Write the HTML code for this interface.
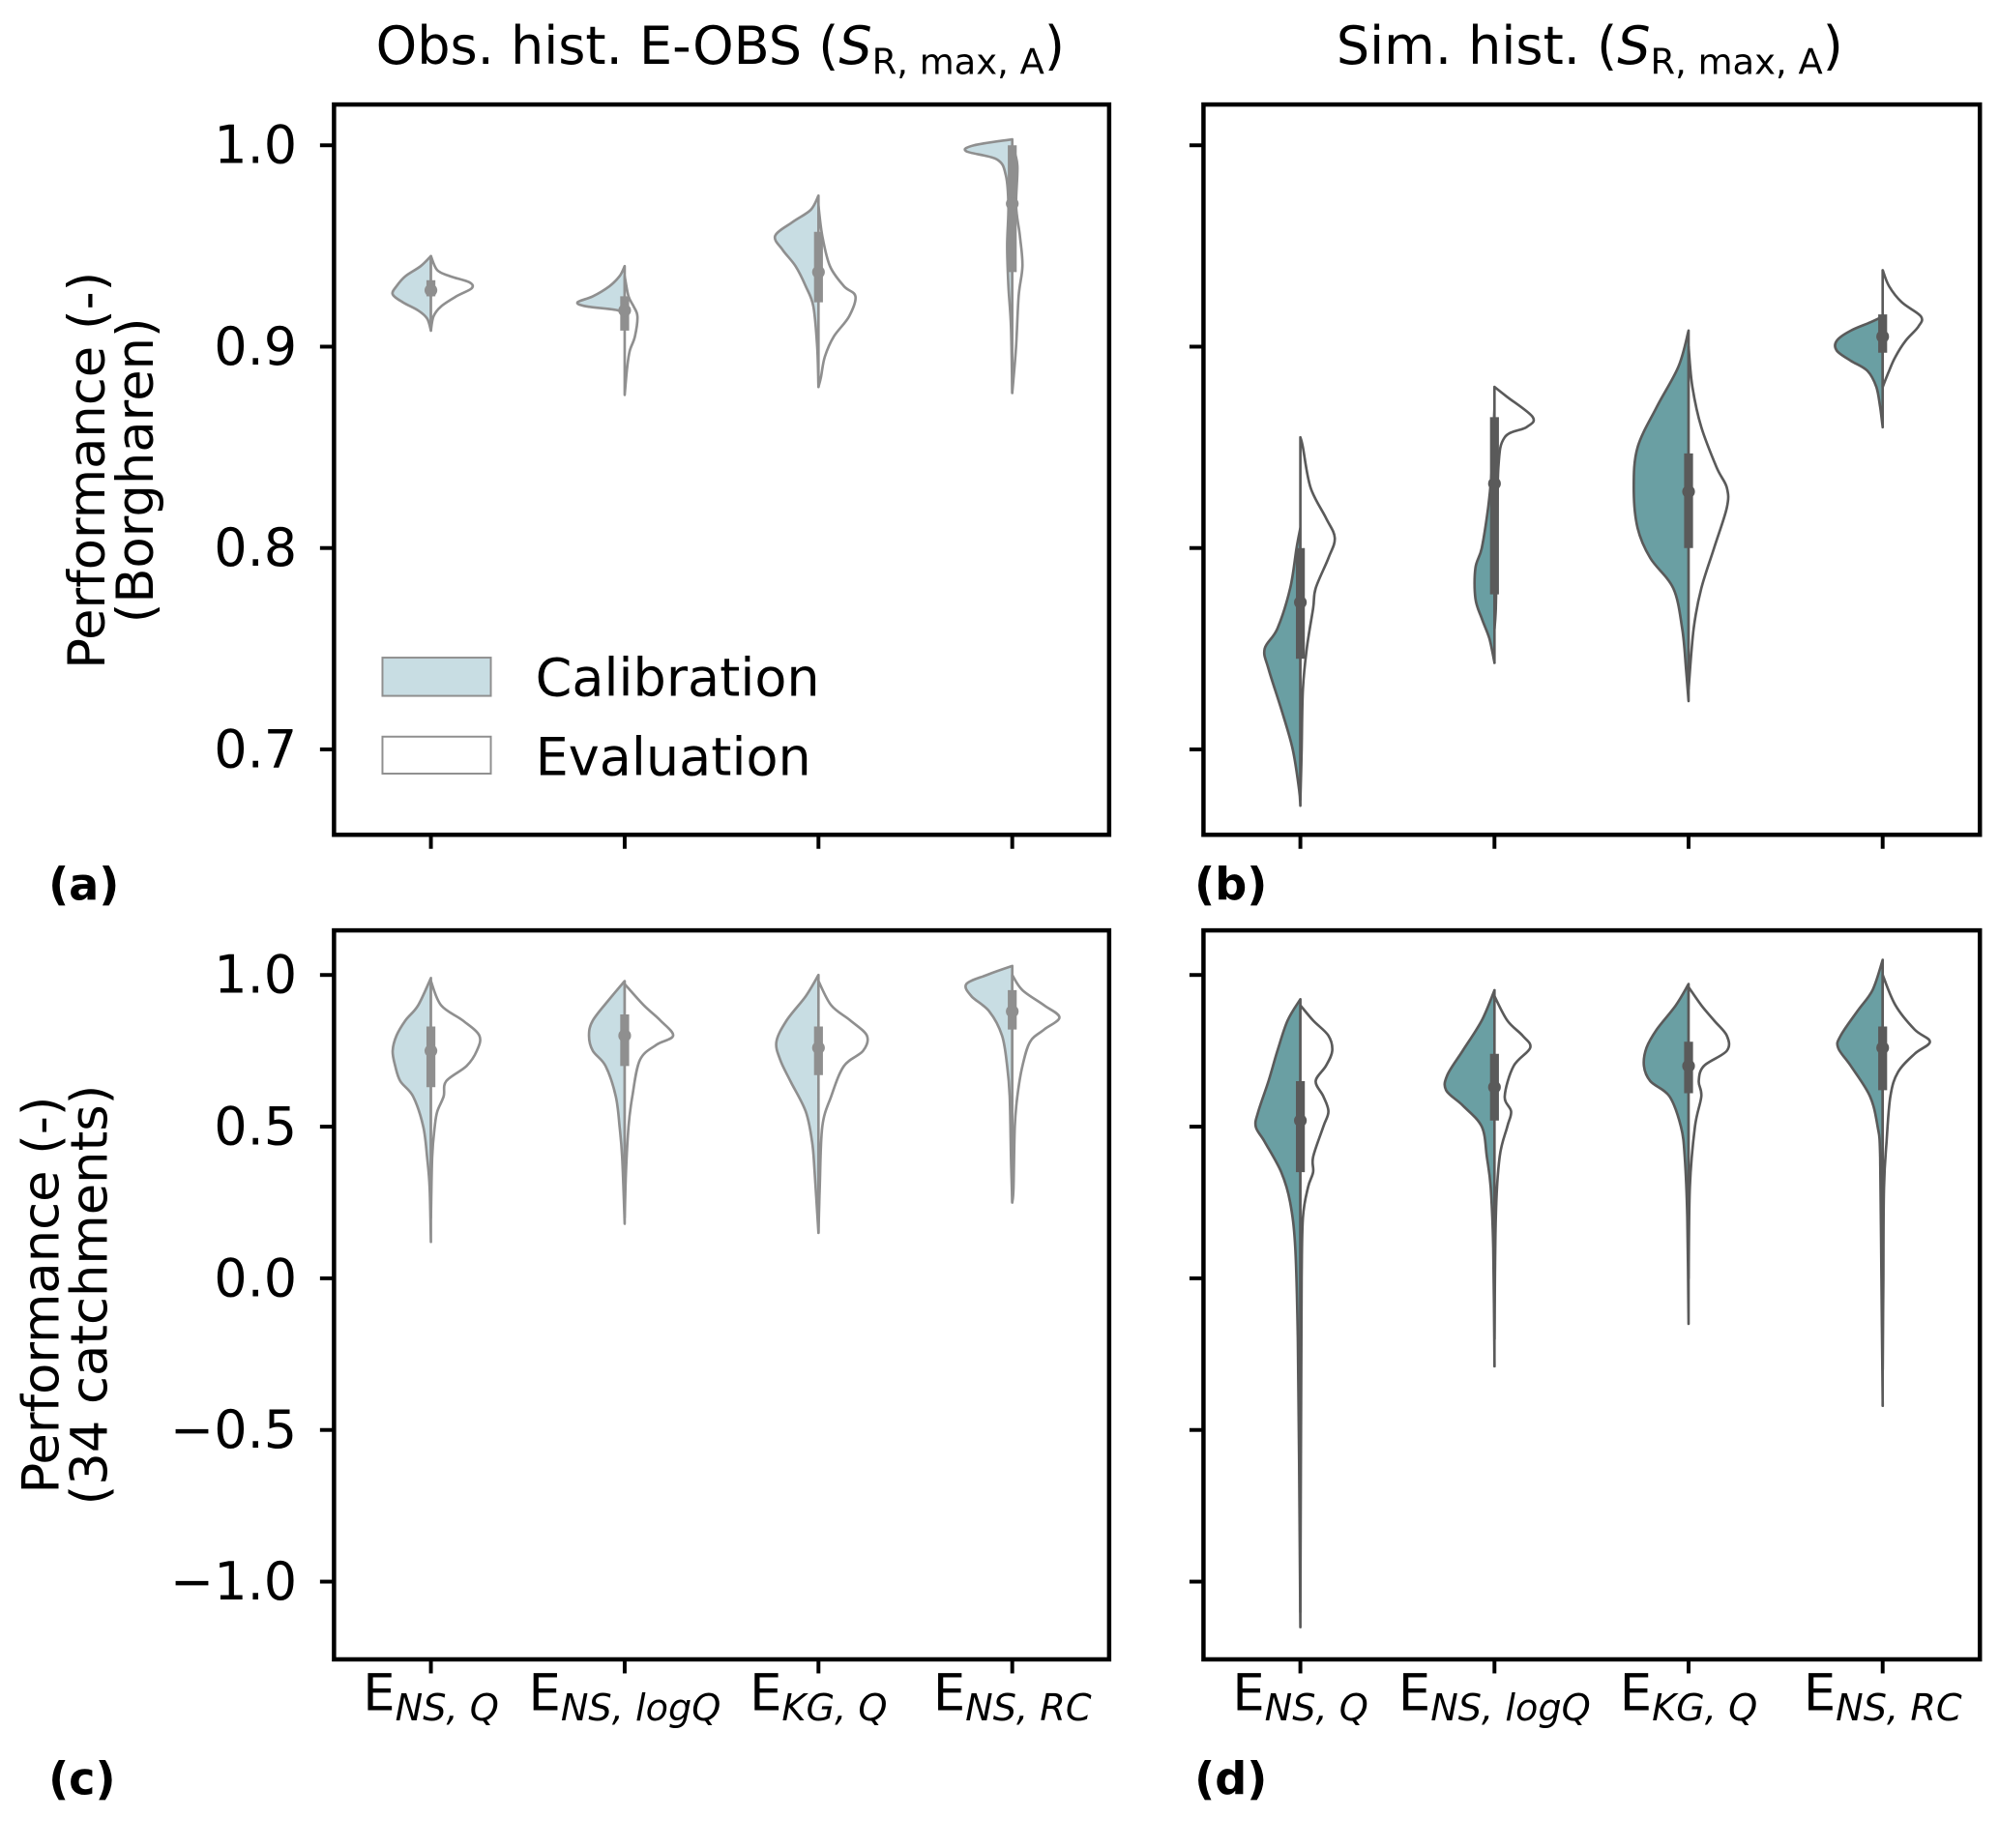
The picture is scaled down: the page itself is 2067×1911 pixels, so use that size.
<!DOCTYPE html>
<html><head><meta charset="utf-8"><style>
html,body{margin:0;padding:0;background:#fff}
svg{display:block}
text{font-family:"DejaVu Sans","Liberation Sans",sans-serif;fill:#000}
</style></head><body>
<svg id="fig" width="2067" height="1911" viewBox="0 0 1568 1450" preserveAspectRatio="none" xmlns="http://www.w3.org/2000/svg">
<text x="565" y="50" font-size="41" text-anchor="middle">Obs. hist. E-OBS (<tspan font-style="italic">S</tspan><tspan font-size="28" dy="8">R, max, A</tspan><tspan dy="-8">)</tspan></text>
<text x="1247" y="50" font-size="41" text-anchor="middle">Sim. hist. (<tspan font-style="italic">S</tspan><tspan font-size="28" dy="8">R, max, A</tspan><tspan dy="-8">)</tspan></text>
<text font-size="40" text-anchor="middle" transform="translate(0,369) rotate(-90)"><tspan x="0" y="82">Performance (-)</tspan><tspan x="0" y="120">(Borgharen)</tspan></text>
<text font-size="40" text-anchor="middle" transform="translate(0,1016) rotate(-90)"><tspan x="0" y="46">Performance (-)</tspan><tspan x="0" y="84">(34 catchments)</tspan></text>
<text x="38" y="706" font-size="35" font-weight="bold">(a)</text>
<text x="937" y="706" font-size="35" font-weight="bold">(b)</text>
<text x="38" y="1408" font-size="35" font-weight="bold">(c)</text>
<text x="937" y="1408" font-size="35" font-weight="bold">(d)</text>
<g id="plots"></g>
<g>
<rect x="300" y="516" width="85" height="30" fill="#c8dde3" stroke="#8f8f8f" stroke-width="1.5"/>
<text x="420" y="546" font-size="41">Calibration</text>
<rect x="300" y="578" width="85" height="29" fill="#fff" stroke="#8f8f8f" stroke-width="1.5"/>
<text x="420" y="608" font-size="41">Evaluation</text>
</g>
</svg>
<script>
const categories = ["NS, Q","NS, logQ","KG, Q","NS, RC"];
const ticksTop = [1.0,0.9,0.8,0.7];
const tickLabelsTop = ["1.0","0.9","0.8","0.7"];
const ticksBottom = [1.0,0.5,0.0,-0.5,-1.0];
const tickLabelsBottom = ["1.0","0.5","0.0","\u22120.5","\u22121.0"];
// profiles: [value, half-width density]
const calA = [
 [[0.945,0],[0.94,8],[0.935,20],[0.93,27],[0.926,30],[0.922,22],[0.918,10],[0.914,3],[0.908,0]],
 [[0.94,0],[0.935,4],[0.93,12],[0.925,25],[0.922,37],[0.92,30],[0.918,5],[0.915,0]],
 [[0.975,0],[0.968,6],[0.962,20],[0.955,34],[0.948,28],[0.94,18],[0.93,10],[0.92,4],[0.9,1],[0.88,0]],
 [[1.003,0],[1.0,30],[0.997,36],[0.993,12],[0.985,5],[0.97,3],[0.95,4],[0.93,3],[0.91,1],[0.877,0]]
];
const evalA = [
 [[0.945,0],[0.938,5],[0.935,15],[0.932,30],[0.929,32],[0.925,20],[0.92,8],[0.915,2],[0.908,0]],
 [[0.935,0],[0.925,3],[0.92,7],[0.915,10],[0.905,8],[0.898,4],[0.89,2],[0.876,0]],
 [[0.97,0],[0.955,3],[0.94,9],[0.93,20],[0.925,29],[0.915,24],[0.905,12],[0.895,5],[0.885,2],[0.88,0]],
 [[1.0,0],[0.99,4],[0.97,3],[0.955,6],[0.94,8],[0.925,5],[0.9,3],[0.877,0]]
];
const boxA = [[0.925,0.928,0.933],[0.908,0.918,0.925],[0.922,0.937,0.957],[0.937,0.971,1.0]];
const calB = [
 [[0.81,0],[0.8,3],[0.78,8],[0.76,18],[0.75,28],[0.74,25],[0.72,15],[0.70,6],[0.68,1],[0.672,0]],
 [[0.87,0],[0.84,2],[0.82,5],[0.8,10],[0.79,15],[0.775,15],[0.765,10],[0.755,4],[0.743,0]],
 [[0.908,0],[0.89,8],[0.87,25],[0.85,40],[0.83,43],[0.81,40],[0.795,30],[0.78,12],[0.76,5],[0.74,2],[0.724,0]],
 [[0.915,0],[0.912,10],[0.908,25],[0.903,36],[0.898,36],[0.893,25],[0.888,12],[0.88,5],[0.87,2],[0.86,0]]
];
const evalB = [
 [[0.855,0],[0.85,2],[0.83,8],[0.815,20],[0.805,27],[0.795,22],[0.78,12],[0.77,10],[0.75,5],[0.73,2],[0.7,1],[0.675,0]],
 [[0.88,0],[0.875,10],[0.865,30],[0.86,25],[0.855,8],[0.84,3],[0.8,2],[0.77,1],[0.76,0]],
 [[0.9,0],[0.88,3],[0.86,10],[0.84,22],[0.83,30],[0.82,30],[0.8,20],[0.78,10],[0.76,4],[0.73,0]],
 [[0.938,0],[0.93,5],[0.922,15],[0.915,30],[0.91,28],[0.903,18],[0.895,10],[0.888,5],[0.88,0]]
];
const boxB = [[0.745,0.773,0.8],[0.777,0.832,0.865],[0.80,0.828,0.847],[0.897,0.905,0.916]];
const calC = [
 [[0.99,0],[0.9,10],[0.85,20],[0.8,27],[0.75,30],[0.7,28],[0.65,24],[0.6,14],[0.5,6],[0.4,3],[0.3,1],[0.12,0]],
 [[0.98,0],[0.92,12],[0.85,25],[0.8,28],[0.75,25],[0.7,15],[0.6,7],[0.5,4],[0.4,2],[0.18,0]],
 [[1.0,0],[0.93,10],[0.85,25],[0.78,33],[0.72,30],[0.65,22],[0.55,10],[0.45,5],[0.35,3],[0.15,0]],
 [[1.03,0],[1.0,20],[0.97,36],[0.93,32],[0.88,18],[0.8,8],[0.7,4],[0.6,2],[0.4,1],[0.25,0]]
];
const evalC = [
 [[0.98,0],[0.9,8],[0.85,25],[0.8,38],[0.75,36],[0.7,28],[0.65,12],[0.6,10],[0.55,5],[0.5,3],[0.4,1],[0.2,0]],
 [[0.97,0],[0.9,15],[0.85,28],[0.8,38],[0.77,25],[0.72,12],[0.6,6],[0.5,3],[0.35,1],[0.2,0]],
 [[0.98,0],[0.9,10],[0.85,25],[0.8,38],[0.75,35],[0.7,20],[0.6,10],[0.5,3],[0.3,1],[0.15,0]],
 [[1.0,0],[0.95,8],[0.9,25],[0.86,37],[0.82,25],[0.78,14],[0.7,8],[0.6,4],[0.5,2],[0.3,1],[0.25,0]]
];
const boxC = [[0.63,0.75,0.83],[0.7,0.8,0.87],[0.67,0.76,0.83],[0.82,0.88,0.95]];
const calD = [
 [[0.92,0],[0.85,10],[0.75,18],[0.65,25],[0.55,33],[0.5,35],[0.45,28],[0.35,15],[0.25,8],[0.1,4],[-0.2,2],[-0.6,1],[-1.15,0]],
 [[0.95,0],[0.85,10],[0.75,25],[0.67,37],[0.62,38],[0.57,25],[0.5,10],[0.4,6],[0.3,3],[0.1,1],[-0.29,0]],
 [[0.97,0],[0.9,10],[0.82,25],[0.76,33],[0.7,35],[0.65,30],[0.6,15],[0.5,6],[0.4,3],[0.2,1],[-0.15,0]],
 [[1.05,0],[0.95,8],[0.88,20],[0.8,33],[0.76,35],[0.7,25],[0.6,10],[0.5,4],[0.4,2],[0,1],[-0.42,0]]
];
const evalD = [
 [[0.9,0],[0.85,10],[0.8,22],[0.75,25],[0.7,20],[0.65,12],[0.6,18],[0.55,22],[0.5,18],[0.4,10],[0.35,10],[0.3,6],[0.2,2],[0,1],[-0.5,0.5],[-1.1,0]],
 [[0.93,0],[0.85,10],[0.8,22],[0.76,28],[0.7,15],[0.6,8],[0.55,13],[0.5,10],[0.4,4],[0.2,1],[-0.2,0]],
 [[0.96,0],[0.9,10],[0.85,20],[0.8,30],[0.75,30],[0.7,12],[0.65,8],[0.6,10],[0.5,5],[0.3,1],[0,0]],
 [[1.0,0],[0.9,10],[0.82,25],[0.78,37],[0.74,25],[0.68,12],[0.6,6],[0.45,3],[0.3,1],[0,0.5],[-0.3,0]]
];
const boxD = [[0.35,0.52,0.65],[0.52,0.63,0.74],[0.61,0.70,0.78],[0.62,0.76,0.83]];

const NS="http://www.w3.org/2000/svg";
const root=document.getElementById('plots');
function mk(tag,attrs,parent){const e=document.createElementNS(NS,tag);for(const k in attrs)e.setAttribute(k,attrs[k]);(parent||root).appendChild(e);return e;}

const panels=[
 {id:'a',x0:262,x1:870,y0:82,y1:655,v0:1.0,p0:114,ppu:1580,ticks:ticksTop,labels:tickLabelsTop,cal:calA,ev:evalA,box:boxA,fill:'#c8dde3',stroke:'#8f8f8f',xl:false,yl:true},
 {id:'b',x0:944,x1:1553,y0:82,y1:655,v0:1.0,p0:114,ppu:1580,ticks:ticksTop,labels:tickLabelsTop,cal:calB,ev:evalB,box:boxB,fill:'#6a9fa3',stroke:'#5a5a5a',xl:false,yl:false},
 {id:'c',x0:262,x1:870,y0:730,y1:1302,v0:1.0,p0:765,ppu:238,ticks:ticksBottom,labels:tickLabelsBottom,cal:calC,ev:evalC,box:boxC,fill:'#c8dde3',stroke:'#8f8f8f',xl:true,yl:true},
 {id:'d',x0:944,x1:1553,y0:730,y1:1302,v0:1.0,p0:765,ppu:238,ticks:ticksBottom,labels:tickLabelsBottom,cal:calD,ev:evalD,box:boxD,fill:'#6a9fa3',stroke:'#5a5a5a',xl:true,yl:false}
];

function smooth(pts){
  let d='';
  for(let i=0;i<pts.length-1;i++){
    const p0=pts[Math.max(0,i-1)],p1=pts[i],p2=pts[i+1],p3=pts[Math.min(pts.length-1,i+2)];
    const c1=[p1[0]+(p2[0]-p0[0])/6,p1[1]+(p2[1]-p0[1])/6];
    const c2=[p2[0]-(p3[0]-p1[0])/6,p2[1]-(p3[1]-p1[1])/6];
    d+=` C${c1[0].toFixed(1)},${c1[1].toFixed(1)} ${c2[0].toFixed(1)},${c2[1].toFixed(1)} ${p2[0].toFixed(1)},${p2[1].toFixed(1)}`;
  }
  return d;
}

panels.forEach(P=>{
  const g=mk('g',{});
  
  
  const yS=v=>P.p0+(P.v0-v)*P.ppu;
  const step=(P.x1-P.x0)/4;
  const xS=i=>P.x0+76+i*step;
  categories.forEach((c,i)=>{
    const cx=xS(i);
    [['cal',P.cal[i],-1,P.fill],['eval',P.ev[i],1,'#ffffff']].forEach(([nm,prof,sgn,fill])=>{
      const pts=prof.map(p=>[cx+sgn*p[1],yS(p[0])]);
      const d=`M${cx},${yS(prof[0][0]).toFixed(1)} L${pts[0][0].toFixed(1)},${pts[0][1].toFixed(1)}`+smooth(pts)+` L${cx},${yS(prof[prof.length-1][0]).toFixed(1)} Z`;
      const p=mk('path',{d:d,fill:fill,stroke:P.stroke,'stroke-width':2,'stroke-linejoin':'round'},g);
      
      
    });
    const b=P.box[i];
    const bx=mk('line',{x1:cx,x2:cx,y1:yS(b[2]),y2:yS(b[0]),stroke:P.stroke,'stroke-width':7},g);
    
    
    const md=mk('circle',{cx:cx,cy:yS(b[1]),r:5,fill:P.stroke},g);
    
    
    const tk=mk('line',{x1:cx,x2:cx,y1:P.y1,y2:P.y1+11,stroke:'#000','stroke-width':3},g);
    
    
    if(P.xl){
      const t=mk('text',{x:cx,y:1342,'font-size':40,'text-anchor':'middle'},g);
      
      
      const s1=document.createElementNS(NS,'tspan');s1.textContent='E';t.appendChild(s1);
      const s2=document.createElementNS(NS,'tspan');s2.setAttribute('font-size','29');s2.setAttribute('font-style','italic');s2.setAttribute('dy','8');s2.textContent=c;t.appendChild(s2);
    }
  });
  P.ticks.forEach((v,k)=>{
    const yy=yS(v);
    const tl=mk('line',{x1:P.x0-11,x2:P.x0,y1:yy,y2:yy,stroke:'#000','stroke-width':3},g);
    
    
    if(P.yl){
      const t=mk('text',{x:P.x0-29,y:yy+14,'font-size':41,'text-anchor':'end'},g);
      t.textContent=P.labels[k];
      
      
    }
  });
  const fr=mk('rect',{x:P.x0,y:P.y0,width:P.x1-P.x0,height:P.y1-P.y0,fill:'none',stroke:'#000','stroke-width':3.4},g);
  
  
});
</script>
</body></html>
